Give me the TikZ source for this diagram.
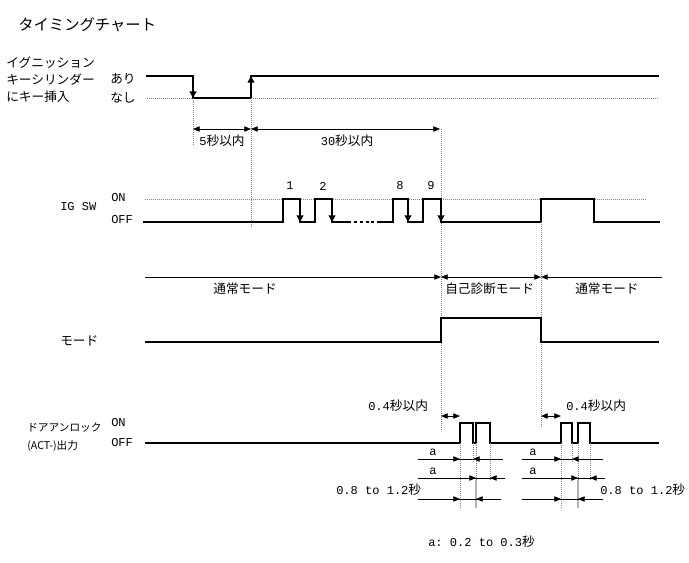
\documentclass[tikz,border=0pt]{standalone}
\usepackage{fontspec}
\setmainfont{Noto Sans CJK JP}
\setmonofont[Scale=0.95]{Liberation Mono}
\usetikzlibrary{positioning, arrows.meta}

\begin{document}
\begin{tikzpicture}[
    x=0.75pt, y=-0.75pt,
    every node/.style={inner sep=0pt, anchor=west, font=\fontsize{9.5}{11}\selectfont},
    sig/.style={line width=2.2pt},
    guide/.style={gray, densely dotted, line width=0.5pt},
    dim/.style={line width=0.6pt},
    edge/.style={sig, -{Triangle[length=5pt, width=5pt]}},
    dimend/.style={dim, -{Triangle[length=5pt, width=4pt]}},
    dimboth/.style={dim, {Triangle[length=5pt, width=4pt]}-{Triangle[length=5pt, width=4pt]}}
]
\useasboundingbox (0,0) rectangle (689,562);

\node[font=\fontsize{11.5}{13}\selectfont] (title) at (18,25) {タイミングチャート};

% key inserted
\node (key1) at (6,63) {イグニッション};
\node (key2) at (6,80) {キーシリンダー};
\node (key3) at (6,97) {にキー挿入};
\node (ari) at (110,79) {あり};
\node (nashi) at (110,98) {なし};
\draw[guide] (147,98) -- (658,98);
\draw[sig] (146,76) -| (193,98) -| (251,76) -- (659,76);
\draw[edge] (193,84) -- (193,98);
\draw[edge] (251,90) -- (251,76);
\draw[guide] (193,98) -- (193,146);
\draw[guide] (251,98) -- (251,228);
\draw[dimboth] (193,129) -- (251,129);
\draw[dimboth] (251,129) -- (440,129);
\node[anchor=center] (in5) at (222,141) {{\ttfamily 5}秒以内};
\node[anchor=center] (in30) at (347,141) {{\ttfamily 30}秒以内};
\draw[guide] (441,129) -- (441,430);

% IG SW
\node (igsw) at (60,207) {\ttfamily IG SW};
\node (on1) at (111,198) {\ttfamily ON};
\node (off1) at (111,220) {\ttfamily OFF};
\draw[guide] (145,199) -- (647,199);
\draw[sig] (143,222) -| (283,199) -| (300,222) -| (315,199) -| (332,222) -- (348,222);
\draw[sig, dash pattern=on 2.2pt off 2.2pt] (348,222) -- (377,222);
\draw[sig] (377,222) -| (393,199) -| (408,222) -| (423,199) -| (441,222) -| (541,199) -| (594,222) -- (660,222);
\foreach \x in {300,332,408,441}
    \draw[edge] (\x,208) -- (\x,222);
\foreach \x/\n in {290/1,323/2,400/8,431/9}
    \node[anchor=center] (count\n) at (\x,186) {\ttfamily\n};
\draw[guide] (541,222) -- (541,428);

% mode arrows
\draw[dim, -{Triangle[length=5pt, width=4pt]}] (145,277) -- (441,277);
\draw[dimboth] (441,277) -- (541,277);
\draw[dim, {Triangle[length=5pt, width=4pt]}-] (541,277) -- (662,277);
\node[anchor=center] (normal1) at (245,289) {通常モード};
\node (diag) at (445,289) {自己診断モード};
\node (normal2) at (575,289) {通常モード};

% mode
\node (mode) at (60,341) {モード};
\draw[sig] (145,342) -| (441,318) -| (541,342) -- (659,342);

% door unlock
\node[font=\fontsize{8}{10}\selectfont] (act1) at (27,428) {ドアアンロック};
\node[font=\fontsize{8}{10}\selectfont] (act2) at (27,446) {(ACT-)出力};
\node (on2) at (111,423) {\ttfamily ON};
\node (off2) at (111,443) {\ttfamily OFF};
\draw[sig] (145,443) -| (460,423) -| (473,443) -| (476,423) -| (490,443) -| (561,423) -| (572,443) -| (578,423) -| (590,443) -- (659,443);
\draw[dimboth] (441,416) -- (460,416);
\draw[dimboth] (541,416) -- (561,416);
\node (within1) at (368,406) {{\ttfamily 0.4}秒以内};
\node (within2) at (566,406) {{\ttfamily 0.4}秒以内};

\foreach \x/\y in {460/508,473/462,476/480,490/480,561/508,572/462,578/480,590/480}
    \draw[guide] (\x,443) -- (\x,\y);
\draw[gray!60, line width=1pt] (476,480) -- (476,508);
\draw[gray!60, line width=1pt] (578,480) -- (578,508);

\foreach \y/\a/\b/\l/\r in {459/460/473/418/503, 478/476/490/418/505, 499/460/476/418/501,
                            459/561/572/522/603, 478/578/590/522/605, 499/561/578/522/603} {
    \draw[dim] (\l,\y) -- (\r,\y);
    \draw[dimend] (\l,\y) -- (\a,\y);
    \draw[dimend] (\r,\y) -- (\b,\y);
}
\foreach \x in {433,533} {
    \node[anchor=center] at (\x,452) {\ttfamily a};
    \node[anchor=center] at (\x,471) {\ttfamily a};
}
\node (range1) at (336,490) {{\ttfamily 0.8 to 1.2}秒};
\node (range2) at (600,490) {{\ttfamily 0.8 to 1.2}秒};

\node (note) at (428,542) {{\ttfamily a: 0.2 to 0.3}秒};
\end{tikzpicture}
\end{document}
